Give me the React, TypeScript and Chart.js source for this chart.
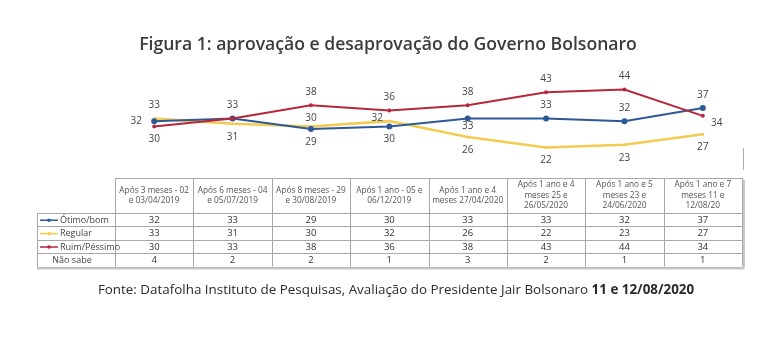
import React, { useEffect, useRef } from "react";
import { Chart, registerables } from "chart.js";

Chart.register(...registerables);

// ---- data ----
const categories: string[][] = [
  ["Após 3 meses - 02", "e 03/04/2019"],
  ["Após 6 meses - 04", "e 05/07/2019"],
  ["Após 8 meses - 29", "e 30/08/2019"],
  ["Após 1 ano - 05 e", "06/12/2019"],
  ["Após 1 ano e 4", "meses 27/04/2020"],
  ["Após 1 ano e 4", "meses 25 e", "26/05/2020"],
  ["Após 1 ano e 5", "meses 23 e", "24/06/2020"],
  ["Após 1 ano e 7", "meses 11 e", "12/08/20"],
];
const otimoBom = [32, 33, 29, 30, 33, 33, 32, 37];
const regular = [33, 31, 30, 32, 26, 22, 23, 27];
const ruimPessimo = [30, 33, 38, 36, 38, 43, 44, 34];
const naoSabe = [4, 2, 2, 1, 3, 2, 1, 1];
const seriesNames = ["Ótimo/bom", "Regular", "Ruim/Péssimo", "Não sabe"];
const titleText = "Figura 1: aprovação e desaprovação do Governo Bolsonaro";
const sourcePlain = "Fonte: Datafolha Instituto de Pesquisas, Avaliação do Presidente Jair Bolsonaro ";
const sourceBold = "11 e 12/08/2020";

// label placement codes (style): a above, A near above, b below, B near below, l left, L left-up, r right, n none
const placeOtimo = ["l", "n", "b", "b", "B", "a", "a", "a"];
const placeRegular = ["a", "b", "A", "L", "b", "b", "b", "b"];
const placeRuim = ["b", "a", "a", "a", "a", "a", "a", "r"];

const BLUE = "#2f5896";
const YELLOW = "#f2cb50";
const RED = "#b5283a";
const FONT = "'Open Sans', 'Noto Sans', sans-serif";

const tablePlugin = {
  id: "tablePlugin",
  afterDraw(chart: any) {
    const ctx: CanvasRenderingContext2D = chart.ctx;
    const xs = chart.scales.x;
    const colW = xs.getPixelForValue(1) - xs.getPixelForValue(0);
    const left = xs.getPixelForValue(0) - colW / 2;
    const right = xs.getPixelForValue(categories.length - 1) + colW / 2;
    const top = 178;
    const headBottom = 213;
    const rowH = 13.4;
    const labelLeft = 37;
    const nRows = 4;
    const bottom = headBottom + rowH * nRows;

    ctx.save();
    // title
    ctx.fillStyle = "#3c3c3c";
    ctx.font = `600 17.6px ${FONT}`;
    ctx.textAlign = "center";
    ctx.textBaseline = "middle";
    ctx.fillText(titleText, 388, 45);

    // data labels
    const places = [placeOtimo, placeRegular, placeRuim];
    ctx.font = `500 10px ${FONT}`;
    ctx.fillStyle = "#444";
    for (let d = 0; d < 3; d++) {
      const meta = chart.getDatasetMeta(d);
      const vals = chart.data.datasets[d].data;
      meta.data.forEach((pt: any, i: number) => {
        const p = places[d][i];
        let x = pt.x, y = pt.y;
        if (p === "n") return;
        if (p === "a") y -= 13;
        else if (p === "A") y -= 8;
        else if (p === "b") y += 13;
        else if (p === "B") y += 8;
        else if (p === "l") x -= 18;
        else if (p === "L") { x -= 12; y -= 3; }
        else if (p === "r") { x += 14; y += 7; }
        ctx.fillText(String(vals[i]), x, y);
      });
    }

    // table grid
    ctx.strokeStyle = "#a8a8a8";
    ctx.lineWidth = 1;
    ctx.beginPath();
    ctx.moveTo(left, top + 0.5);
    ctx.lineTo(right, top + 0.5);
    for (let r = 0; r <= nRows; r++) {
      const y = Math.round(headBottom + r * rowH) + 0.5;
      ctx.moveTo(labelLeft, y);
      ctx.lineTo(right, y);
    }
    for (let c = 0; c <= categories.length; c++) {
      const x = Math.round(left + c * colW) + 0.5;
      ctx.moveTo(x, top);
      ctx.lineTo(x, bottom);
    }
    ctx.moveTo(labelLeft + 0.5, headBottom);
    ctx.lineTo(labelLeft + 0.5, bottom);
    ctx.stroke();
    ctx.strokeStyle = "#c8c8c8";
    ctx.lineWidth = 2;
    ctx.beginPath();
    ctx.moveTo(labelLeft, bottom + 2);
    ctx.lineTo(right + 2, bottom + 2);
    ctx.moveTo(right + 2, top + 2);
    ctx.lineTo(right + 2, bottom + 2);
    ctx.stroke();
    // stray small tick
    ctx.strokeStyle = "#b0b0b0";
    ctx.lineWidth = 1;
    ctx.beginPath();
    ctx.moveTo(743.5, 148);
    ctx.lineTo(743.5, 170);
    ctx.stroke();

    // header text
    ctx.fillStyle = "#555";
    ctx.font = `8.3px ${FONT}`;
    const headMid = (top + headBottom) / 2;
    categories.forEach((lines, i) => {
      const cx = xs.getPixelForValue(i);
      const lh = 10.5;
      const y0 = headMid - ((lines.length - 1) * lh) / 2;
      lines.forEach((ln, k) => ctx.fillText(ln, cx, y0 + k * lh));
    });

    // values
    const rows = [otimoBom, regular, ruimPessimo, naoSabe];
    ctx.fillStyle = "#333";
    ctx.font = `500 9.5px ${FONT}`;
    rows.forEach((row, r) => {
      const cy = headBottom + rowH * r + rowH / 2 + 0.5;
      row.forEach((v, i) => ctx.fillText(String(v), xs.getPixelForValue(i), cy));
    });

    // row labels
    const colors = [BLUE, YELLOW, RED];
    ctx.textAlign = "left";
    ctx.font = `9px ${FONT}`;
    rows.forEach((_, r) => {
      const cy = headBottom + rowH * r + rowH / 2 + 0.5;
      if (r < 3) {
        ctx.strokeStyle = colors[r];
        ctx.fillStyle = colors[r];
        ctx.lineWidth = 1.5;
        ctx.beginPath();
        ctx.moveTo(40, cy);
        ctx.lineTo(58, cy);
        ctx.stroke();
        ctx.beginPath();
        ctx.arc(49, cy, 1.8, 0, Math.PI * 2);
        ctx.fill();
        ctx.fillStyle = "#444";
        ctx.fillText(seriesNames[r], 60, cy);
      } else {
        ctx.fillStyle = "#444";
        ctx.textAlign = "center";
        ctx.fillText(seriesNames[r], 72, cy);
      }
    });

    // source
    ctx.font = `13.4px ${FONT}`;
    const wPlain = ctx.measureText(sourcePlain).width;
    ctx.font = `bold 13.4px ${FONT}`;
    const wBold = ctx.measureText(sourceBold).width;
    const sx = 396 - (wPlain + wBold) / 2;
    ctx.textAlign = "left";
    ctx.fillStyle = "#2a2a2a";
    ctx.font = `13.4px ${FONT}`;
    ctx.fillText(sourcePlain, sx, 290);
    ctx.font = `bold 13.4px ${FONT}`;
    ctx.fillText(sourceBold, sx + wPlain, 290);
    ctx.restore();
  },
};

export default function App() {
  const ref = useRef<HTMLCanvasElement | null>(null);
  useEffect(() => {
    if (!ref.current) return;
    const chart = new Chart(ref.current, {
      type: "line",
      data: {
        labels: categories.map((c) => c.join(" ")),
        datasets: [
          {
            label: seriesNames[0],
            data: otimoBom,
            borderColor: BLUE,
            backgroundColor: BLUE,
            borderWidth: 2,
            pointRadius: 3,
            pointBorderWidth: 0,
            order: 2,
          },
          {
            label: seriesNames[1],
            data: regular,
            borderColor: YELLOW,
            backgroundColor: YELLOW,
            borderWidth: 2.5,
            pointRadius: 1.5,
            pointBorderWidth: 0,
            order: 3,
          },
          {
            label: seriesNames[2],
            data: ruimPessimo,
            borderColor: RED,
            backgroundColor: RED,
            borderWidth: 2,
            pointRadius: 2,
            pointBorderWidth: 0,
            order: 1,
          },
        ],
      },
      options: {
        responsive: false,
        animation: false,
        devicePixelRatio: 1,
        layout: { padding: { left: 115, right: 34, top: 79, bottom: 183 } },
        plugins: { legend: { display: false }, tooltip: { enabled: false }, title: { display: false } },
        scales: {
          x: { display: false, offset: true },
          y: { display: false, min: 18, max: 48 },
        },
      },
      plugins: [tablePlugin],
    });
    return () => chart.destroy();
  }, []);
  return (
    <div style={{ position: "absolute", left: 0, top: 0, width: 776, height: 341, background: "#fff" }}>
      <canvas ref={ref} width={776} height={341} style={{ display: "block" }} />
    </div>
  );
}
